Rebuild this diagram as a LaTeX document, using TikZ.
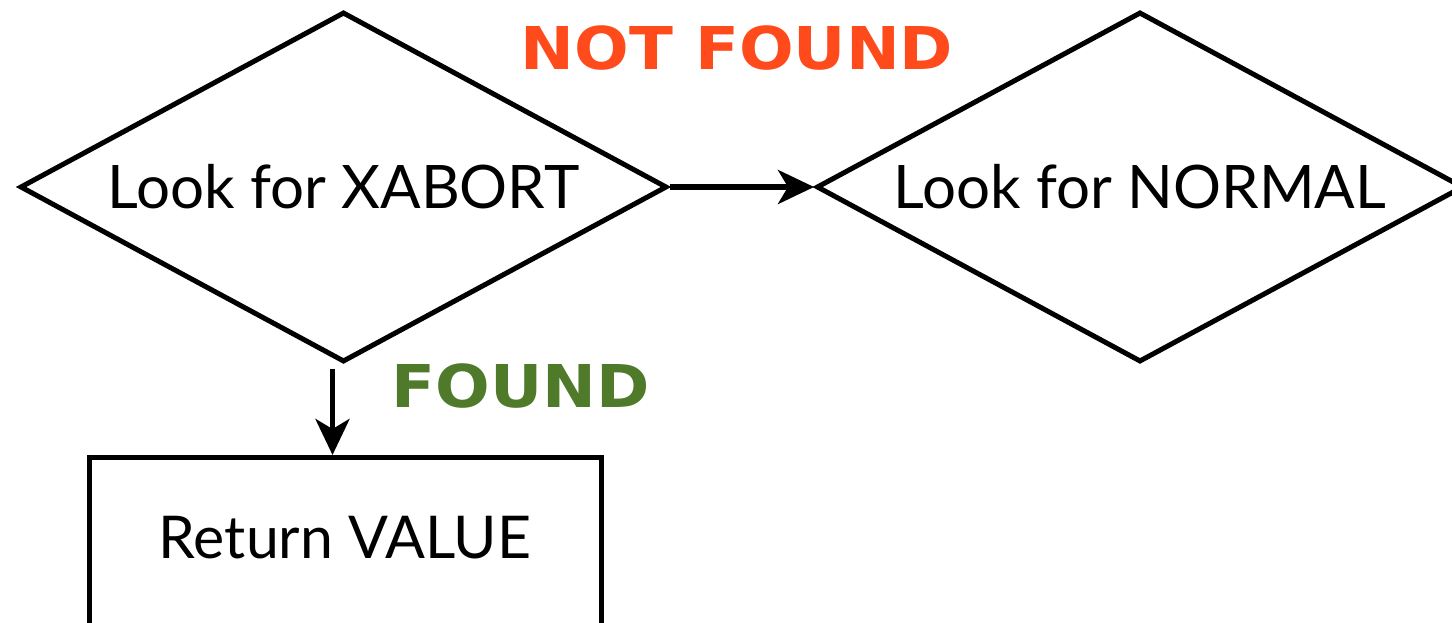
\documentclass[tikz,border=0pt]{standalone}
\usepackage{fontspec}
\setmainfont{Lato}
\newfontfamily\labelfont[FakeStretch=1.09]{DejaVu Sans}
\usetikzlibrary{shapes.geometric,arrows.meta,calc}
\definecolor{notfound}{HTML}{FF4A1C}
\definecolor{found}{HTML}{4E7A2A}
\begin{document}
\begin{tikzpicture}[x=1pt,y=-1pt,
  decision/.style={draw=black,line width=5pt,diamond,aspect=1.85,inner sep=0pt,
    minimum width=647pt,minimum height=350pt,font=\fontsize{60}{62}\selectfont},
  actionbox/.style={draw=black,line width=5pt,rectangle,inner sep=0pt,
    minimum width=512pt,minimum height=200pt},
  flow/.style={line width=5.5pt,-{Stealth[length=36pt,width=34pt,inset=10pt]}},
  outcome/.style={font=\labelfont\fontsize{59}{61}\selectfont\bfseries}]
  \useasboundingbox[fill=white] (0,0) rectangle (1452,623);
  % two decisions side by side
  \node[decision] (xabort) at (343.5,187) {Look for XABORT};
  \node[decision] (normal) at (1140,187) {Look for NORMAL};
  % result box, running past the lower edge
  \node[actionbox,anchor=north] (retbox) at (345,455) {};
  \node[font=\fontsize{59}{61}\selectfont] (rettext) at (345,538) {Return VALUE};
  % branch labels
  \node[outcome,text=notfound] (nf) at (737,48) {NOT FOUND};
  \node[outcome,text=found] (fd) at (521,386) {FOUND};
  % connectors
  \draw[flow] (xabort.east) -- (normal.west);
  \draw[flow] ([xshift=-11pt,yshift=-4pt]xabort.south) -- ([xshift=-11pt]xabort.south |- retbox.north);
\end{tikzpicture}
\end{document}
